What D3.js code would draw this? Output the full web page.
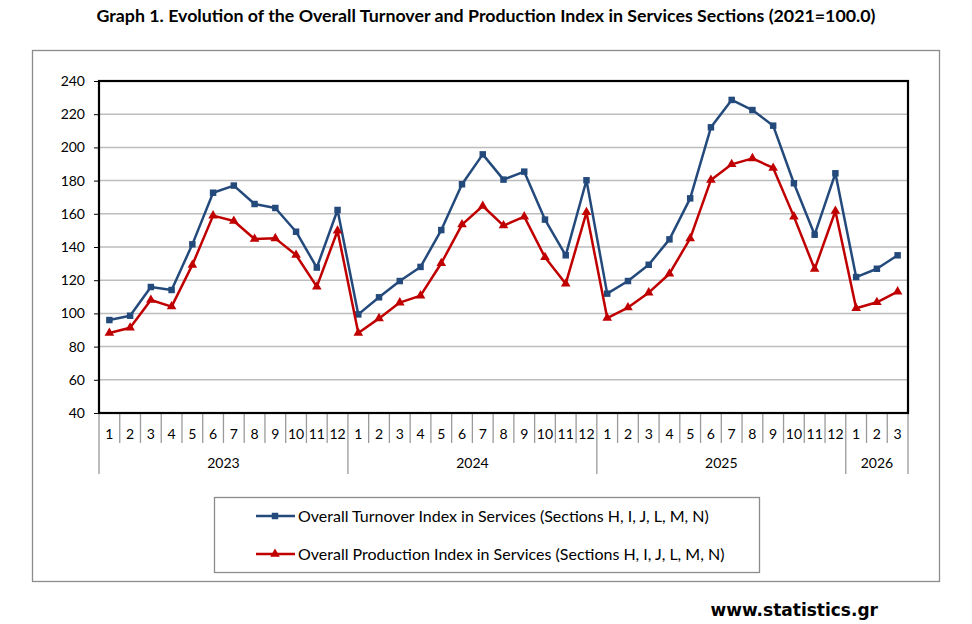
<!DOCTYPE html>
<html>
<head>
<meta charset="utf-8">
<script src="https://cdn.jsdelivr.net/npm/d3@7"></script>
<style>
body{margin:0;background:#fff;}
text{font-family:Lato,"Open Sans",sans-serif;}
</style>
</head>
<body>
<svg id="svg" width="972" height="624"></svg>
<script>
var years = ["2023","2024","2025","2026"];
var monthsPerYear = [12,12,12,3];

var turnover = [96.0,98.6,115.9,114.1,141.6,172.7,177.0,165.9,163.5,149.2,127.6,162.3,
    99.4,109.7,119.5,128.0,150.2,177.8,195.8,180.6,185.4,156.5,135.0,180.2,
    111.9,119.5,129.3,144.6,169.3,212.1,228.6,222.5,213.1,178.4,147.4,184.4,
    121.9,126.9,135.0];
var production = [88.2,91.4,108.1,104.1,129.2,158.9,155.7,144.8,145.2,135.2,116.1,149.8,
    88.2,97.0,106.5,110.7,130.2,153.5,164.7,152.9,158.3,133.8,117.9,160.9,
    97.2,103.5,112.5,123.9,145.2,180.4,189.8,193.4,187.6,158.3,126.7,161.7,
    103.1,106.7,113.1];

var yTicks = [40,60,80,100,120,140,160,180,200,220,240];
var seriesNames = ["Overall Turnover Index in Services (Sections H, I, J, L, M, N)",
    "Overall Production Index in Services (Sections H, I, J, L, M, N)"];
var seriesColors = ["#244a7c","#c00000"];

// month labels
var months = [];
for(var yi=0;yi<years.length;yi++){
    for(var m=1;m<=monthsPerYear[yi];m++){
        months.push({label:String(m), year:years[yi]});
    }
}

var svg = d3.select("#svg");
var pLeft = 99, pRight = 908, pTop = 81, pBottom = 413;

var x = d3.scaleBand().domain(d3.range(months.length)).range([pLeft,pRight]);
var yScale = d3.scaleLinear().domain([40,240]).range([pBottom,pTop]);
var cx = function(i){ return x(i)+x.bandwidth()/2; };

// outer frame
svg.append("rect").attr("x",32.5).attr("y",50.5).attr("width",907).attr("height",531)
    .attr("fill","#fff").attr("stroke","#8c8c8c").attr("stroke-width",1.3);

// title
svg.append("text").attr("x",486).attr("y",22).attr("text-anchor","middle")
    .attr("font-size",17.8).attr("font-weight","bold").attr("fill","#000")
    .text("Graph 1. Evolution of the Overall Turnover and Production Index in Services Sections (2021=100.0)");

// grid
svg.selectAll(".grid").data(yTicks.slice(1,-1)).enter().append("line")
    .attr("x1",pLeft).attr("x2",pRight)
    .attr("y1",function(d){ return yScale(d); }).attr("y2",function(d){ return yScale(d); })
    .attr("stroke","#bdbdbd").attr("stroke-width",1.5);

// y axis
var yAxis = d3.axisLeft(yScale).tickValues(yTicks).tickSize(5).tickPadding(9);
var ga = svg.append("g").attr("transform","translate("+pLeft+",0)").call(yAxis);
ga.select(".domain").remove();
ga.selectAll("line").attr("stroke","#000");
ga.selectAll("text").attr("font-size",14).attr("fill","#000").style("font-family","Lato,sans-serif");

// x axis separators and labels
var bounds = d3.range(months.length+1);
var yearStart = [0];
for(var k=0;k<monthsPerYear.length;k++){ yearStart.push(yearStart[k]+monthsPerYear[k]); }
svg.selectAll(".sep").data(bounds).enter().append("line")
    .attr("x1",function(d){ return d<months.length?x(d):pRight; })
    .attr("x2",function(d){ return d<months.length?x(d):pRight; })
    .attr("y1",pBottom)
    .attr("y2",function(d){ return yearStart.indexOf(d)>=0?474:443; })
    .attr("stroke","#9a9a9a").attr("stroke-width",1.3);

svg.selectAll(".mlab").data(months).enter().append("text")
    .attr("x",function(d,i){ return cx(i); }).attr("y",439)
    .attr("text-anchor","middle").attr("font-size",14).attr("fill","#000")
    .text(function(d){ return d.label; });

svg.selectAll(".ylab").data(years).enter().append("text")
    .attr("x",function(d,i){ return (x(yearStart[i]) + (yearStart[i+1]<months.length?x(yearStart[i+1]):pRight))/2; })
    .attr("y",468).attr("text-anchor","middle").attr("font-size",14).attr("fill","#000")
    .text(function(d){ return d; });

// lines
var line = d3.line().x(function(d,i){ return cx(i); }).y(function(d){ return yScale(d); });
var allSeries = [turnover, production];
var symbols = [d3.symbolSquare, d3.symbolTriangle];
var symSizes = [42, 40];

for(var s=0;s<allSeries.length;s++){
    svg.append("path").datum(allSeries[s]).attr("d",line)
        .attr("fill","none").attr("stroke",seriesColors[s]).attr("stroke-width",2.5)
        .attr("stroke-linejoin","round");
    svg.selectAll(".pt"+s).data(allSeries[s]).enter().append("path")
        .attr("d",d3.symbol().type(symbols[s]).size(symSizes[s]))
        .attr("transform",function(d,i){ return "translate("+cx(i)+","+yScale(d)+")"; })
        .attr("fill",seriesColors[s]);
}

// plot frame
svg.append("rect").attr("x",pLeft).attr("y",pTop).attr("width",pRight-pLeft).attr("height",pBottom-pTop)
    .attr("fill","none").attr("stroke","#000").attr("stroke-width",2.2);

// legend
svg.append("rect").attr("x",214.5).attr("y",497.5).attr("width",545).attr("height",75)
    .attr("fill","#fff").attr("stroke","#8c8c8c").attr("stroke-width",1.3);
var legY = [516, 554];
for(var s=0;s<seriesNames.length;s++){
    svg.append("line").attr("x1",256).attr("x2",295).attr("y1",legY[s]).attr("y2",legY[s])
        .attr("stroke",seriesColors[s]).attr("stroke-width",2.5);
    svg.append("path").attr("d",d3.symbol().type(symbols[s]).size(symSizes[s]))
        .attr("transform","translate(275,"+legY[s]+")").attr("fill",seriesColors[s]);
    svg.append("text").attr("x",298).attr("y",legY[s]+5.5).attr("font-size",16).attr("fill","#000")
        .text(seriesNames[s]);
}

// footer
svg.append("text").attr("x",878).attr("y",616).attr("text-anchor","end")
    .attr("font-size",17).attr("font-weight","bold").attr("fill","#000")
    .style("font-family","'DejaVu Sans',Verdana,sans-serif")
    .text("www.statistics.gr");
</script>
</body>
</html>
